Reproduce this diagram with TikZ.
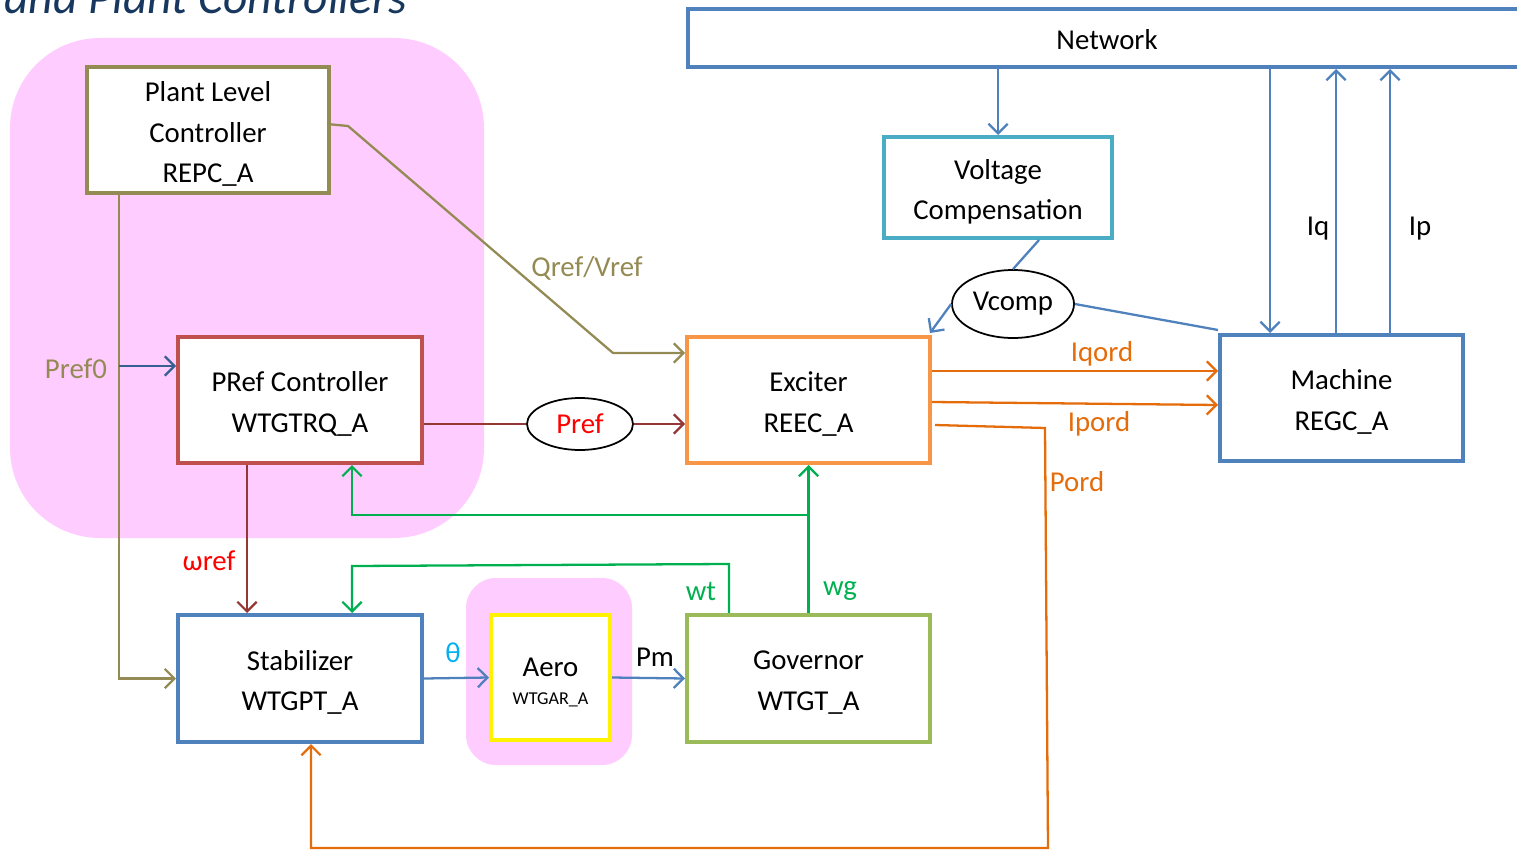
\documentclass[tikz,border=0pt]{standalone}
\usepackage{fontspec}
\setmainfont{Carlito}
\usetikzlibrary{arrows.meta,calc,shapes.geometric}
\definecolor{pinkbg}{HTML}{FFCCFF}
\definecolor{olive}{HTML}{948A54}
\definecolor{redbox}{HTML}{C0504D}
\definecolor{darkred}{HTML}{953735}
\definecolor{orangebox}{HTML}{F79646}
\definecolor{orangeln}{HTML}{E46C0A}
\definecolor{bluebox}{HTML}{4F81BD}
\definecolor{tealbox}{HTML}{4BACC6}
\definecolor{greenbox}{HTML}{9BBB59}
\definecolor{greenln}{HTML}{00B050}
\definecolor{darkblue}{HTML}{376092}
\definecolor{thetacol}{HTML}{00B0F0}
\definecolor{titlecol}{HTML}{17375E}
\begin{document}
\begin{tikzpicture}[x=0.02cm,y=-0.02cm,
  every node/.style={font=\fontsize{16.4}{22.9}\selectfont},
  blk/.style={draw,line width=2.3pt,fill=white,inner sep=0pt},
  btxt/.style={align=center,inner sep=0pt,yshift=-0.08cm},
  arr/.style={line width=1.3pt,-{Straight Barb[length=5.5pt,width=11pt,line width=1.3pt]}},
  ln/.style={line width=1.3pt},
  lbl/.style={inner sep=0pt}]
\useasboundingbox (0,0) rectangle (1517,851);
% title (cut off at the top edge, as in the reference)
\node[anchor=base west,inner sep=0pt,text=titlecol,font=\fontsize{27}{32}\selectfont\itshape] (title) at (4,14) {and Plant Controllers};
% backgrounds
\fill[pinkbg,rounded corners=1.8cm] (10,38) rectangle (484,538);
\fill[pinkbg,rounded corners=0.6cm] (466,578) rectangle (632,765);
% boxes
\node[blk,draw=olive,minimum width=4.84cm,minimum height=2.52cm] (plant) at (208,130) {};
\node[btxt] (plantt) at (plant.center) {Plant Level\\Controller\\REPC\_A};
\node[blk,draw=redbox,minimum width=4.88cm,minimum height=2.52cm] (pref) at (300,400) {};
\node[btxt] (preft) at (pref.center) {PRef Controller\\WTGTRQ\_A};
\node[blk,draw=orangebox,minimum width=4.86cm,minimum height=2.52cm] (exc) at (808.5,400) {};
\node[btxt] (exct) at (exc.center) {Exciter\\REEC\_A};
\node[blk,draw=bluebox,minimum width=4.86cm,minimum height=2.52cm] (mach) at (1341.5,398) {};
\node[btxt] (macht) at (mach.center) {Machine\\REGC\_A};
\node[blk,draw=tealbox,minimum width=4.56cm,minimum height=2.02cm] (vc) at (998,187.5) {};
\node[btxt] (vct) at (vc.center) {Voltage\\Compensation};
\node[blk,draw=bluebox,minimum width=16.84cm,minimum height=1.16cm] (net) at (1109,38) {};
\node[btxt,yshift=0.04cm] (nett) at (1107,38) {Network};
\node[blk,draw=bluebox,minimum width=4.88cm,minimum height=2.54cm] (stab) at (300,678.5) {};
\node[btxt] (stabt) at (stab.center) {Stabilizer\\WTGPT\_A};
\node[blk,draw=yellow,minimum width=2.38cm,minimum height=2.5cm] (aero) at (550.5,677.5) {};
\node[inner sep=0pt,align=center] (aerot) at (550.5,667) {Aero};
\node[inner sep=0pt,font=\fontsize{10.3}{12}\selectfont] (aerot2) at (550.5,700) {WTGAR\_A};
\node[blk,draw=greenbox,minimum width=4.86cm,minimum height=2.54cm] (gov) at (808.5,678.5) {};
\node[btxt] (govt) at (gov.center) {Governor\\WTGT\_A};
% ellipses
\node[draw,ellipse,line width=1pt,fill=white,minimum width=2.44cm,minimum height=1.36cm,inner sep=0pt] (vcomp) at (1013,304) {Vcomp};
\node[draw,ellipse,line width=1pt,fill=white,minimum width=2.12cm,minimum height=1.04cm,inner sep=0pt,text=red] (prefe) at (580,424) {Pref};
% coordinates
\coordinate (cMq) at (1270,0);
\coordinate (cIq) at (1336,0);
\coordinate (cIp) at (1390,0);
\coordinate (cP0) at (119,0);
\coordinate (cQ1) at (348,126);
\coordinate (cQ2) at (613,353);
\coordinate (cG) at (352,0);
\coordinate (cWt) at (729,0);
\coordinate (cPs) at (311,0);
% network / voltage compensation / machine
\draw[arr,bluebox] (vc.north |- net.south) -- (vc.north);
\draw[ln,bluebox] ($(vc.south)+(41,0)$) -- (vcomp.north);
\draw[arr,bluebox] (vcomp.west) -- ($(exc.north east)+(-2,-2)$);
\draw[ln,bluebox] (vcomp.east) -- ($(mach.north west)+(0,-3)$);
\draw[arr,bluebox] (cMq |- net.south) -- (cMq |- mach.north);
\draw[arr,bluebox] (cIq |- mach.north) -- (cIq |- net.south);
\draw[arr,bluebox] (cIp |- mach.north) -- (cIp |- net.south);
\node[lbl] (iq) at (1318,229) {Iq};
\node[lbl] (ip) at (1420,229) {Ip};
% plant level controller
\draw[arr,olive] ($(plant.east)+(-4,-6)$) -- (cQ1) -- (cQ2) -- (exc.west |- cQ2);
\node[lbl,text=olive] (qv) at (587,268) {Qref/Vref};
\draw[arr,olive] (cP0 |- plant.south) -- (cP0 |- stab.west) -- (stab.west);
\draw[arr,darkblue] (cP0 |- 0,366) -- (pref.west |- 0,366);
\node[lbl,text=olive] (p0) at (76,369) {Pref0};
% pref
\draw[ln,darkred] (pref.east |- prefe.west) -- (prefe.west);
\draw[arr,darkred] (prefe.east) -- (exc.west |- prefe.east);
\draw[arr,darkred] (247,0 |- pref.south) -- (247,0 |- stab.north);
\node[lbl,text=red] (wref) at (209,561) {ωref};
% governor
\draw[arr,greenln] (gov.north) -- (exc.south);
\draw[arr,greenln] (exc.south |- 0,515) -- (cG |- 0,515) -- (cG |- pref.south);
\draw[arr,greenln] (cWt |- gov.north) -- (cWt |- 0,564) -- (cG |- 0,566) -- (cG |- stab.north);
\node[lbl,text=greenln] (wt) at (701,591) {wt};
\node[lbl,text=greenln] (wg) at (840,591) {wg};
% stabilizer / aero / governor
\draw[arr,bluebox] (stab.east) -- (aero.west);
\node[lbl,text=thetacol] (th) at (453,653) {θ};
\draw[arr,bluebox] (aero.east) -- (gov.west);
\node[lbl] (pm) at (655,657) {Pm};
% exciter outputs
\draw[arr,orangeln] (exc.east |- 0,371) -- (mach.west |- 0,371);
\draw[arr,orangeln] (exc.east |- 0,402) -- (mach.west |- 0,405);
\node[lbl,text=orangeln] (iqord) at (1102,354) {Iqord};
\node[lbl,text=orangeln] (ipord) at (1099,424) {Ipord};
\draw[arr,orangeln] ($(exc.east |- 0,425)+(3,0)$) -- (1045,428) -- (1048,848) -- (cPs |- 0,848) -- (cPs |- stab.south);
\node[lbl,text=orangeln] (pord) at (1077,482) {Pord};
\end{tikzpicture}
\end{document}
